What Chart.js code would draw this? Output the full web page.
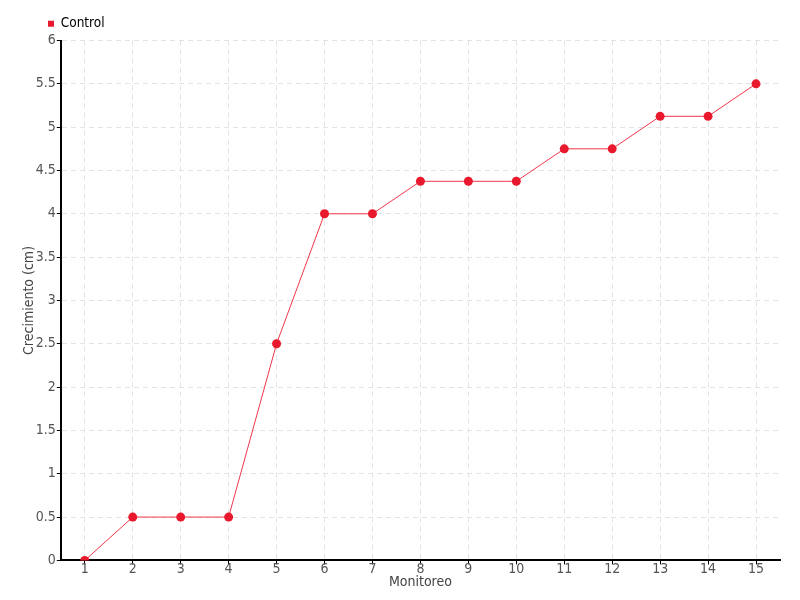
<!DOCTYPE html>
<html>
<head>
<meta charset="utf-8">
<script src="https://cdn.jsdelivr.net/npm/chart.js@4"></script>
<style>
html,body{margin:0;padding:0;background:#fff;}
#wrap{width:800px;height:600px;position:relative;}
</style>
</head>
<body>
<div id="wrap"><canvas id="c" width="800" height="600"></canvas></div>
<script>
const categories = ["1","2","3","4","5","6","7","8","9","10","11","12","13","14","15"];
const seriesName = "Control";
const controlValues = [0,0.5,0.5,0.5,2.5,4,4,4.375,4.375,4.375,4.75,4.75,5.125,5.125,5.5];
const yTitle = "Crecimiento (cm)";
const xTitle = "Monitoreo";

const FONT = "'Liberation Sans Narrow','DejaVu Sans Condensed',sans-serif";
const RED = "#e8192c";

const shiftLegend = {
  id: 'shiftLegend',
  afterLayout(chart) {
    const lg = chart.legend;
    if (lg) { lg.left += 22; lg.right += 22; }
  }
};

new Chart(document.getElementById('c'), {
  type: 'line',
  data: {
    labels: categories,
    datasets: [{
      label: seriesName,
      data: controlValues,
      borderColor: "#f0374a",
      backgroundColor: RED,
      borderWidth: 1,
      pointRadius: 4.5,
      pointBackgroundColor: RED,
      pointBorderColor: RED,
      pointBorderWidth: 0,
      tension: 0
    }]
  },
  plugins: [shiftLegend],
  options: {
    responsive: false,
    animation: false,
    layout: {padding: {left: 20, right: 20, top: 11, bottom: 9}},
    plugins: {
      legend: {
        position: 'top',
        align: 'start',
        labels: {
          boxWidth: 6, boxHeight: 6,
          padding: 6,
          color: '#444',
          font: {family: FONT, size: 13.5},
          generateLabels: (chart) => [{
            text: seriesName, fillStyle: RED, strokeStyle: RED, lineWidth: 0, datasetIndex: 0
          }]
        }
      },
      tooltip: {enabled: false}
    },
    scales: {
      x: {
        offset: true,
        grid: {color: '#e3e3e3', tickColor: '#000', tickLength: 4, lineWidth: 1},
        border: {display: true, color: '#000', width: 2, dash: [5,4]},
        ticks: {color: '#555', font: {family: FONT, size: 14}, padding: -3, maxRotation: 0},
        title: {display: true, text: xTitle, color: '#444', font: {family: FONT, size: 14}, padding: {top: -1, bottom: 0}}
      },
      y: {
        min: 0, max: 6,
        grid: {color: '#e3e3e3', tickColor: '#000', tickLength: 4, lineWidth: 1},
        border: {display: true, color: '#000', width: 2, dash: [5,4]},
        ticks: {stepSize: 0.5, color: '#555', font: {family: FONT, size: 14}, padding: 1,
          callback: (v) => String(v)},
        title: {display: true, text: yTitle, color: '#444', font: {family: FONT, size: 14}, padding: {top: 1, bottom: -3}}
      }
    }
  }
});
</script>
</body>
</html>
